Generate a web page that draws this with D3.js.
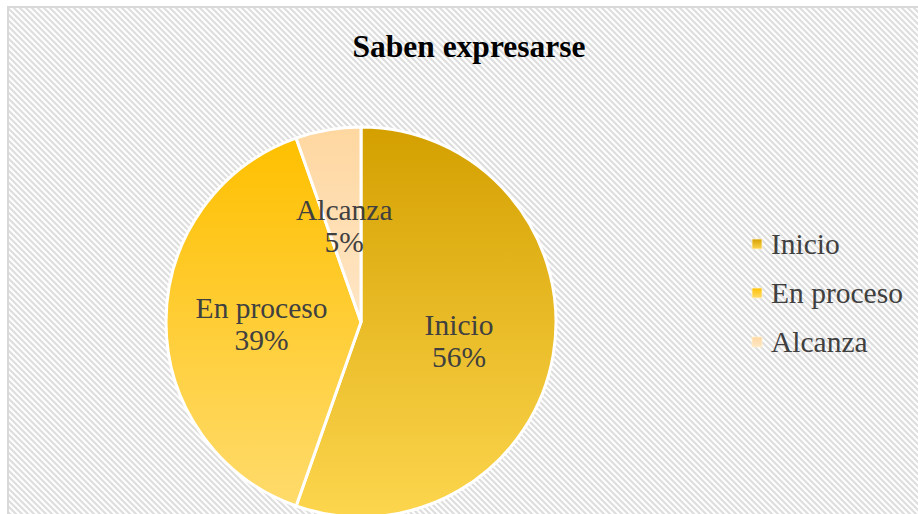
<!DOCTYPE html>
<html>
<head>
<meta charset="utf-8">
<script src="https://cdn.jsdelivr.net/npm/d3@7/dist/d3.min.js"></script>
<style>
  html, body { margin: 0; padding: 0; background: #fff; }
  svg { display: block; }
</style>
</head>
<body>
<svg id="chart" width="918" height="514"></svg>
<script>
const title = "Saben expresarse";
const categories = ["Inicio", "En proceso", "Alcanza"];
const values = [55.4, 39.2, 5.4];
const labels = ["56%", "39%", "5%"];
const gradTop = ["#D4A000", "#FFC000", "#FFD7A0"];
const gradBottom = ["#FDD64E", "#FFDB6C", "#FFE6C6"];

const svg = d3.select("#chart");
const W = 918, H = 514;
const defs = svg.append("defs");

// hatch pattern
const pat = defs.append("pattern").attr("id", "hatch")
  .attr("patternUnits", "userSpaceOnUse").attr("width", 6).attr("height", 6);
pat.append("rect").attr("width", 6).attr("height", 6).attr("fill", "#fff");
pat.append("path").attr("d", "M-1,-1L7,7M-1,5L1,7M5,-1L7,1")
  .attr("stroke", "#dedede").attr("stroke-width", 2.2).attr("fill", "none");

categories.forEach((c, i) => {
  const g = defs.append("linearGradient").attr("id", "g" + i)
    .attr("x1", 0).attr("y1", 0).attr("x2", 0).attr("y2", 1);
  g.append("stop").attr("offset", "0%").attr("stop-color", gradTop[i]);
  g.append("stop").attr("offset", "100%").attr("stop-color", gradBottom[i]);
});

svg.append("rect").attr("width", W).attr("height", H).attr("fill", "#fff");
svg.append("rect").attr("x", 8).attr("y", 7).attr("width", W + 10).attr("height", H + 10)
  .attr("fill", "url(#hatch)").attr("stroke", "#d9d9d9").attr("stroke-width", 2);

svg.append("text").attr("x", 469).attr("y", 57).attr("text-anchor", "middle")
  .attr("font-family", "'Liberation Serif', 'Times New Roman', serif")
  .attr("font-weight", "bold").attr("font-size", 31.5).attr("fill", "#000")
  .text(title);

const cx = 361, cy = 322, r = 195;
const pie = d3.pie().sort(null).value(d => d)(values);
const arc = d3.arc().innerRadius(0).outerRadius(r);
const labelArc = d3.arc().innerRadius(r * 0.51).outerRadius(r * 0.51);

const g = svg.append("g").attr("transform", `translate(${cx},${cy})`);
g.selectAll("path.slice").data(pie).join("path")
  .attr("class", "slice")
  .attr("d", arc)
  .attr("fill", (d, i) => `url(#g${i})`)
  .attr("stroke", "#fff").attr("stroke-width", 3).attr("stroke-linejoin", "round");

const lab = g.selectAll("text.lbl").data(pie).join("text")
  .attr("class", "lbl")
  .attr("text-anchor", "middle")
  .attr("font-family", "'Liberation Serif', 'Times New Roman', serif")
  .attr("font-size", 29.5).attr("fill", "#404040")
  .attr("transform", d => { const [x, y] = labelArc.centroid(d); return `translate(${x},${y})`; });
lab.append("tspan").attr("x", 0).attr("y", -4).text((d, i) => categories[i]);
lab.append("tspan").attr("x", 0).attr("y", 28).text((d, i) => labels[i]);

// legend
const leg = svg.append("g");
const legY = d3.scalePoint().domain(categories).range([244, 342]);
const li = leg.selectAll("g").data(categories).join("g")
  .attr("transform", d => `translate(752,${legY(d)})`);
li.append("rect").attr("x", 0).attr("y", -5).attr("width", 10).attr("height", 10)
  .attr("fill", (d, i) => `url(#g${i})`).attr("stroke", "#fff3d0").attr("stroke-width", 0.8);
li.append("text").attr("x", 19).attr("y", 10)
  .attr("font-family", "'Liberation Serif', 'Times New Roman', serif")
  .attr("font-size", 29.5).attr("fill", "#404040")
  .text(d => d);
</script>
</body>
</html>
